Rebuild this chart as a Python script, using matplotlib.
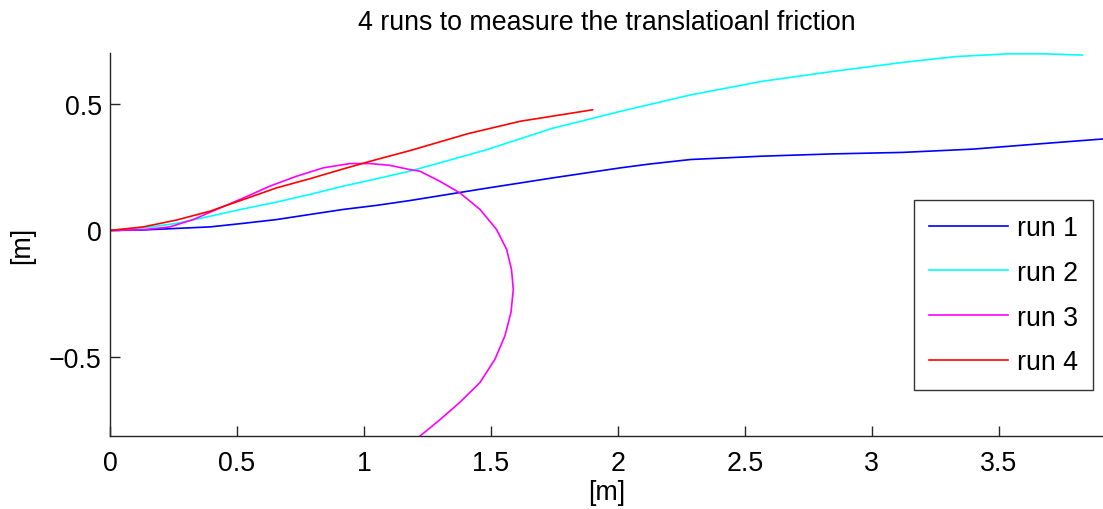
import matplotlib
matplotlib.use("Agg")
import matplotlib.pyplot as plt

# trajectories (x, y) in metres for the four friction runs
run1_x = [0.0, 0.131, 0.262, 0.394, 0.525, 0.656, 0.787, 0.919, 1.05, 1.181, 1.478, 1.754, 2.01, 2.124,
          2.287, 2.565, 2.843, 3.121, 3.399, 3.676, 3.91]
run1_y = [0.0, 0.002, 0.008, 0.014, 0.028, 0.043, 0.063, 0.083, 0.099, 0.118, 0.166, 0.209, 0.247, 0.262,
          0.280, 0.293, 0.302, 0.308, 0.321, 0.343, 0.361]

run2_x = [0.0, 0.131, 0.262, 0.394, 0.525, 0.656, 0.787, 0.919, 1.05, 1.181, 1.478, 1.742, 2.01, 2.287,
          2.565, 2.843, 3.121, 3.329, 3.538, 3.676, 3.829]
run2_y = [0.0, 0.010, 0.028, 0.056, 0.085, 0.112, 0.142, 0.175, 0.204, 0.234, 0.317, 0.403, 0.47, 0.535,
          0.588, 0.627, 0.663, 0.686, 0.697, 0.697, 0.692]

run3_x = [0.0, 0.131, 0.236, 0.328, 0.42, 0.525, 0.63, 0.735, 0.84, 0.945, 1.024, 1.102, 1.181, 1.22,
          1.299, 1.378, 1.457, 1.522, 1.562, 1.581, 1.588, 1.579, 1.555, 1.516, 1.457, 1.378, 1.299,
          1.22]
run3_y = [0.0, 0.003, 0.014, 0.043, 0.083, 0.128, 0.175, 0.214, 0.247, 0.264, 0.264, 0.257, 0.240,
          0.234, 0.194, 0.148, 0.083, 0.004, -0.075, -0.154, -0.232, -0.324, -0.416, -0.508, -0.600,
          -0.678, -0.747, -0.812]

run4_x = [0.0, 0.131, 0.262, 0.394, 0.525, 0.656, 0.787, 0.919, 1.05, 1.181, 1.41, 1.616, 1.9]
run4_y = [0.0, 0.014, 0.041, 0.076, 0.122, 0.168, 0.204, 0.243, 0.280, 0.315, 0.382, 0.431, 0.476]

labels = ["run 1", "run 2", "run 3", "run 4"]
colors = ["#0000ff", "#00ffff", "#ff00ff", "#ff0000"]

plt.rcParams["font.family"] = ["Liberation Sans", "DejaVu Sans"]
fs = 19.3

fig = plt.figure(figsize=(11.03, 5.10), dpi=100)
ax = fig.add_axes([0.0997, 0.1437, 0.9003, 0.7503])

runs = [(run1_x, run1_y), (run2_x, run2_y), (run3_x, run3_y), (run4_x, run4_y)]
for (xs, ys), lab, col in zip(runs, labels, colors):
    ax.plot(xs, ys, color=col, lw=1.2, label=lab)

ax.set_xlim(0, 3.91)
ax.set_ylim(-0.81, 0.70)
ax.set_xticks([0, 0.5, 1, 1.5, 2, 2.5, 3, 3.5])
ax.set_xticklabels(["0", "0.5", "1", "1.5", "2", "2.5", "3", "3.5"])
ax.set_yticks([-0.5, 0, 0.5])
ax.set_yticklabels(["\u22120.5", "0", "0.5"])

for side in ["top", "right"]:
    ax.spines[side].set_visible(False)
for side in ["left", "bottom"]:
    ax.spines[side].set_color("#262626")
    ax.spines[side].set_linewidth(1.0)
ax.tick_params(direction="in", length=7, width=1.0, color="#262626", labelsize=fs)
ax.tick_params(axis="x", pad=10)
ax.tick_params(axis="y", pad=6)

ax.set_title("4 runs to measure the translatioanl friction", fontsize=fs, pad=17)
ax.set_xlabel("[m]", fontsize=fs, labelpad=2.5)
ax.set_ylabel("[m]", fontsize=fs, labelpad=10)

leg = ax.legend(loc="upper left", bbox_to_anchor=(0.8097, 0.616), borderaxespad=0, fontsize=fs,
                frameon=True, fancybox=False, edgecolor="black", handlelength=2.95,
                labelspacing=0.7, borderpad=0.56, handletextpad=0.34)
leg.get_frame().set_linewidth(1.0)

fig.savefig("out.png", dpi=100)
